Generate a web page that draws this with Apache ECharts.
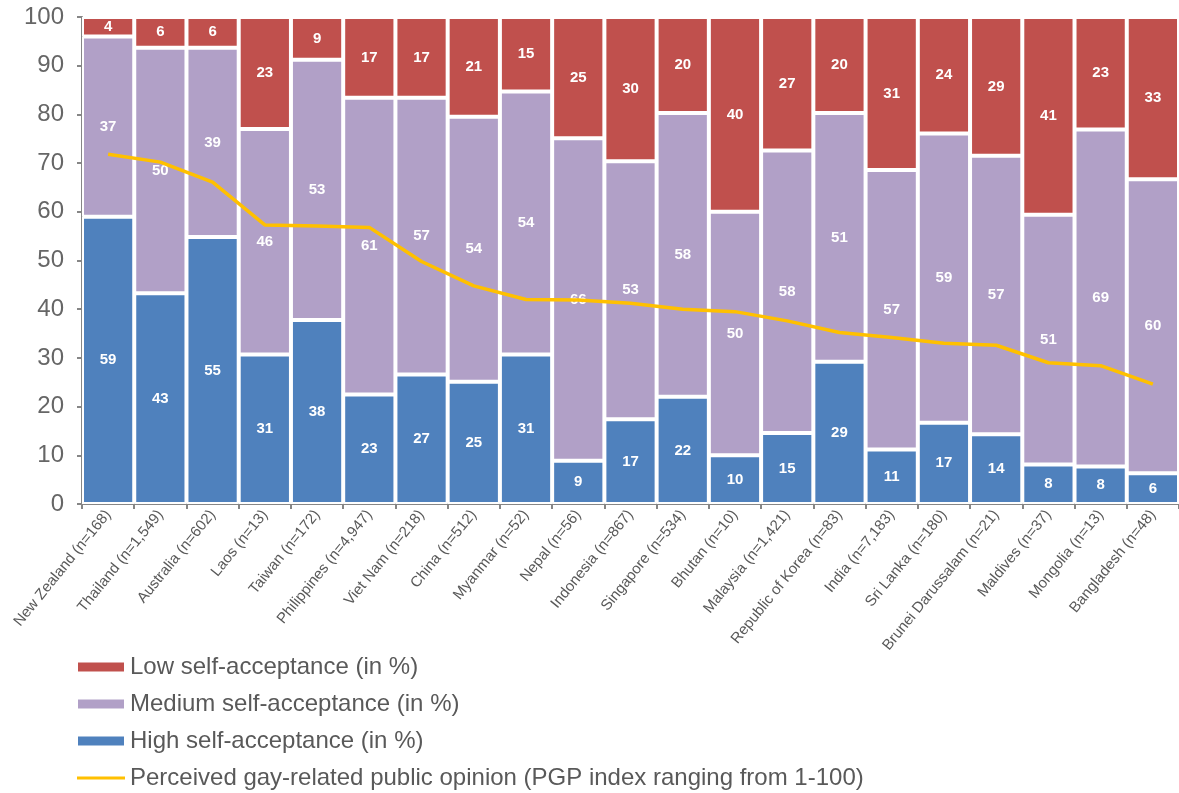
<!DOCTYPE html>
<html>
<head>
<meta charset="utf-8">
<script src="https://cdn.jsdelivr.net/npm/echarts@6/dist/echarts.min.js"></script>
<style>
  html, body { margin: 0; padding: 0; background: #fff; }
  #mainContent { width: 1179px; height: 793px; }
</style>
</head>
<body>
<div id="mainContent"></div>
<script>
var categories = ['New Zealand (n=168)', 'Thailand (n=1,549)', 'Australia (n=602)', 'Laos (n=13)',
    'Taiwan (n=172)', 'Philippines (n=4,947)', 'Viet Nam (n=218)', 'China (n=512)', 'Myanmar (n=52)',
    'Nepal (n=56)', 'Indonesia (n=867)', 'Singapore (n=534)', 'Bhutan (n=10)', 'Malaysia (n=1,421)',
    'Republic of Korea (n=83)', 'India (n=7,183)', 'Sri Lanka (n=180)', 'Brunei Darussalam (n=21)',
    'Maldives (n=37)', 'Mongolia (n=13)', 'Bangladesh (n=48)'];

// shares (labels show the rounded value)
var highValues = [59.0, 43.3, 54.8, 30.7, 37.8, 22.5, 26.6, 25.1, 30.7, 8.9, 17.4, 22.0, 10.0, 14.6, 29.2, 11.2, 16.7, 14.3, 8.1, 7.7, 6.3];
var mediumValues = [37.0, 50.4, 38.9, 46.3, 53.4, 60.9, 56.8, 54.4, 54.0, 66.2, 53.0, 58.3, 50.0, 58.0, 51.1, 57.4, 59.4, 57.2, 51.3, 69.2, 60.4];
var lowValues = [4.0, 6.3, 6.3, 23.0, 8.8, 16.6, 16.6, 20.5, 15.3, 24.9, 29.6, 19.7, 40.0, 27.4, 19.7, 31.4, 23.9, 28.5, 40.6, 23.1, 33.3];
var pgpValues = [71.8, 70.2, 66.1, 57.3, 57.1, 56.8, 49.8, 44.8, 42.0, 41.9, 41.2, 40.0, 39.5, 37.6, 35.2, 34.2, 33.0, 32.6, 29.0, 28.4, 24.6];

var yTicks = [0, 10, 20, 30, 40, 50, 60, 70, 80, 90, 100];

var myChart = echarts.init(document.getElementById('mainContent'));

var font = 'Liberation Sans, Arial, sans-serif';

function barSeries(name, data, color) {
    return {
        name: name,
        type: 'bar',
        stack: 'total',
        barWidth: '100%',
        barCategoryGap: 0,
        data: data,
        itemStyle: { color: color, borderColor: '#fff', borderWidth: 2 },
        label: {
            show: true,
            position: 'inside',
            color: '#fff',
            fontWeight: 'bold',
            fontSize: 15,
            fontFamily: font,
            formatter: function (p) { return Math.round(p.value); }
        },
        emphasis: { disabled: true }
    };
}

var lineName = 'Perceived gay-related public opinion (PGP index ranging from 1-100)';

option = {
    animation: false,
    textStyle: { fontFamily: font },
    grid: { left: 82, right: -2, top: 17, bottom: 289 },
    legend: {
        orient: 'vertical',
        left: 76,
        top: 655,
        padding: 0,
        itemWidth: 48,
        itemHeight: 11,
        itemGap: 13,
        textStyle: { fontSize: 24, color: '#595959', fontFamily: font },
        data: [
            { name: 'Low self-acceptance (in %)', icon: 'rect' },
            { name: 'Medium self-acceptance (in %)', icon: 'rect' },
            { name: 'High self-acceptance (in %)', icon: 'rect' },
            { name: lineName, icon: 'path://M0,0 L48,0 L48,3 L0,3 Z' }
        ]
    },
    xAxis: {
        type: 'category',
        data: categories,
        boundaryGap: true,
        axisLine: { lineStyle: { color: '#868686', width: 2 } },
        axisTick: { show: true, length: 5, alignWithLabel: false, lineStyle: { color: '#868686', width: 2 } },
        axisLabel: {
            interval: 0,
            rotate: 51,
            fontSize: 15,
            color: '#595959',
            margin: 8
        }
    },
    yAxis: {
        type: 'value',
        min: yTicks[0],
        max: yTicks[yTicks.length - 1],
        interval: 10,
        axisLine: { show: true, lineStyle: { color: '#868686', width: 2 } },
        axisTick: { show: true, length: 5, lineStyle: { color: '#868686', width: 2 } },
        splitLine: { show: false },
        axisLabel: { fontSize: 24, color: '#666666', margin: 18 }
    },
    series: [
        barSeries('High self-acceptance (in %)', highValues, '#4F81BD'),
        barSeries('Medium self-acceptance (in %)', mediumValues, '#B1A0C7'),
        barSeries('Low self-acceptance (in %)', lowValues, '#C0504D'),
        {
            name: lineName,
            type: 'line',
            data: pgpValues,
            symbol: 'none',
            lineStyle: { color: '#FFC000', width: 3.5 },
            itemStyle: { color: '#FFC000' },
            z: 3
        }
    ]
};

myChart.setOption(option);
</script>
</body>
</html>
